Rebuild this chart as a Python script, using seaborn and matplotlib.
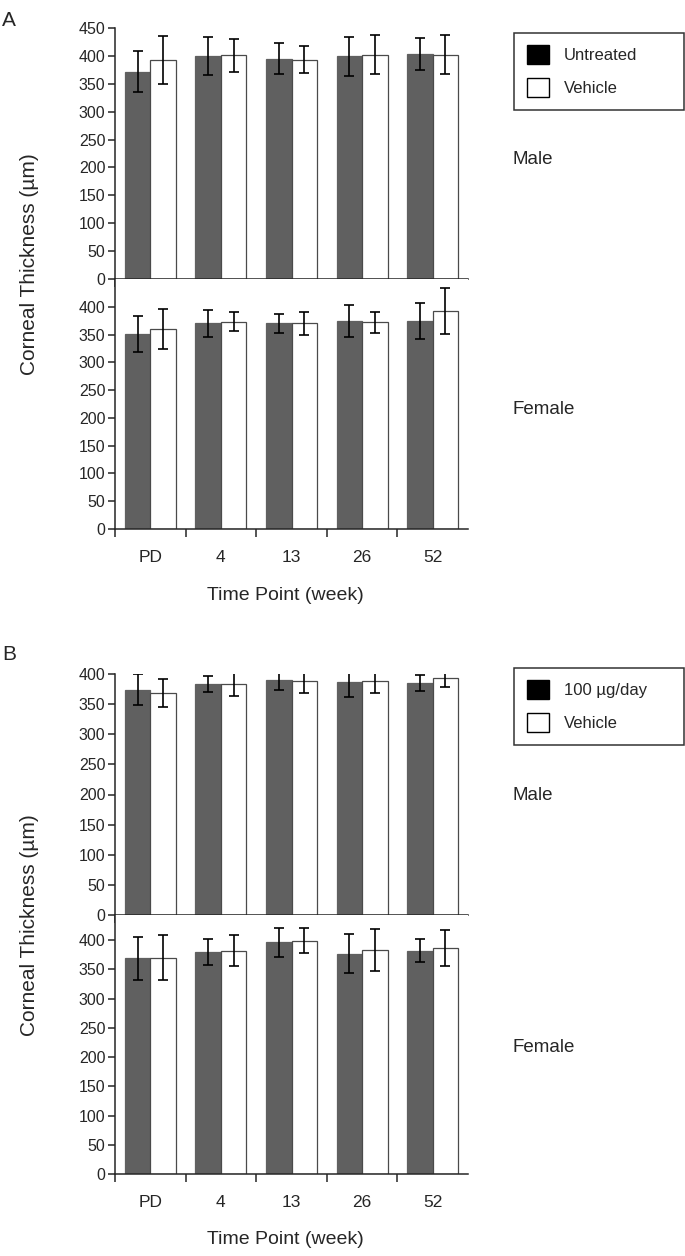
import pandas as pd
import seaborn as sns
import matplotlib.pyplot as plt
from matplotlib.patches import Patch

time_points = ['PD', '4', '13', '26', '52']

# panel A: untreated vs vehicle
a_labels = ['Untreated', 'Vehicle']
a_male_untreated = [372, 400, 395, 399, 403]
a_male_untreated_err = [36, 34, 28, 35, 29]
a_male_vehicle = [393, 401, 393, 402, 402]
a_male_vehicle_err = [43, 30, 24, 35, 35]
a_female_untreated = [351, 370, 370, 374, 374]
a_female_untreated_err = [33, 24, 17, 29, 32]
a_female_vehicle = [360, 373, 370, 372, 392]
a_female_vehicle_err = [36, 17, 20, 19, 41]

# panel B: 100 ug/day vs vehicle
b_labels = ['100 µg/day', 'Vehicle']
b_male_treated = [374, 383, 390, 386, 385]
b_male_treated_err = [26, 13, 16, 24, 13]
b_male_vehicle = [369, 383, 388, 388, 393]
b_male_vehicle_err = [23, 19, 19, 19, 15]
b_female_treated = [369, 380, 396, 377, 382]
b_female_treated_err = [37, 22, 24, 33, 20]
b_female_vehicle = [370, 382, 399, 383, 387]
b_female_vehicle_err = [38, 27, 21, 36, 31]

DARK = '#606060'
W, H = 685, 1256

sns.set_style('ticks')
plt.rcParams['font.family'] = ['Liberation Sans', 'DejaVu Sans']
plt.rcParams['axes.linewidth'] = 1.1

fig = plt.figure(figsize=(W / 100, H / 100), dpi=100)


def panel(top, bottom, treated, treated_err, vehicle, vehicle_err, labels,
          ylim, yticks, show_x):
    ax = fig.add_axes([115 / W, 1 - bottom / H, 353 / W, (bottom - top) / H])
    df = pd.DataFrame({
        'time': time_points * 2,
        'group': [labels[0]] * 5 + [labels[1]] * 5,
        'thickness': treated + vehicle,
    })
    sns.barplot(data=df, x='time', y='thickness', hue='group',
                palette=[DARK, 'white'], width=0.72, errorbar=None,
                legend=False, ax=ax, linewidth=0.9, saturation=1)
    for p in ax.containers[0]:
        p.set_edgecolor(DARK)
    for p in ax.containers[1]:
        p.set_edgecolor('#4a4a4a')
    for cont, err in zip(ax.containers, [treated_err, vehicle_err]):
        xs = [b.get_x() + b.get_width() / 2 for b in cont]
        ys = [b.get_height() for b in cont]
        ax.errorbar(xs, ys, yerr=err, fmt='none', ecolor='black',
                    elinewidth=1.2, capsize=3.8, capthick=1.2, zorder=5)
    ax.set_xlim(-0.5, 4.5)
    ax.set_ylim(*ylim)
    ax.set_yticks(yticks)
    ax.tick_params(axis='y', length=5, width=1.1, pad=2, labelsize=11.5)
    ax.set_xticks([-0.5, 0.5, 1.5, 2.5, 3.5])
    ax.set_xticklabels([])
    ax.tick_params(axis='x', which='major', length=6, width=1.1)
    if show_x:
        ax.set_xticks(range(5), minor=True)
        ax.set_xticklabels(time_points, minor=True)
        ax.tick_params(axis='x', which='minor', length=0, pad=15, labelsize=12.5)
    ax.set_xlabel('')
    ax.set_ylabel('')
    sns.despine(ax=ax)
    return ax


# panel A
panel(28, 279, a_male_untreated, a_male_untreated_err, a_male_vehicle,
      a_male_vehicle_err, a_labels, (0, 450), range(0, 451, 50), False)
panel(279, 529, a_female_untreated, a_female_untreated_err, a_female_vehicle,
      a_female_vehicle_err, a_labels, (0, 450), range(0, 401, 50), True)

# panel B
panel(674, 915, b_male_treated, b_male_treated_err, b_male_vehicle,
      b_male_vehicle_err, b_labels, (0, 400), range(0, 401, 50), False)
panel(915, 1174, b_female_treated, b_female_treated_err, b_female_vehicle,
      b_female_vehicle_err, b_labels, (0, 443), range(0, 401, 50), True)

for letter, y, labels, ylab, xlab, male, female, leg_top in [
        ('A', 20, a_labels, 264, 595, 160, 410, 33),
        ('B', 655, b_labels, 925, 1240, 795, 1048, 668)]:
    fig.text(2 / W, 1 - y / H, letter, fontsize=15, va='center', ha='left')
    fig.text(30 / W, 1 - ylab / H, 'Corneal Thickness (µm)', rotation=90,
             fontsize=15, va='center', ha='center')
    fig.text(285 / W, 1 - xlab / H, 'Time Point (week)', fontsize=14,
             va='center', ha='center')
    fig.text(512 / W, 1 - male / H, 'Male', fontsize=13.5, va='center')
    fig.text(512 / W, 1 - female / H, 'Female', fontsize=13.5, va='center')
    handles = [Patch(facecolor='black', edgecolor='black'),
               Patch(facecolor='white', edgecolor='black')]
    leg = fig.legend(handles, labels, loc='upper left',
                     bbox_to_anchor=(514 / W, 1 - (leg_top + 75) / H, 170 / W, 75 / H),
                     mode='expand', fontsize=12, frameon=True, fancybox=False,
                     handlelength=1.35, handleheight=1.35, handletextpad=0.9,
                     labelspacing=0.85, borderpad=0.75, borderaxespad=0)
    leg.get_frame().set_edgecolor('black')
    leg.get_frame().set_linewidth(1.1)

fig.savefig('out.png', dpi=100)
